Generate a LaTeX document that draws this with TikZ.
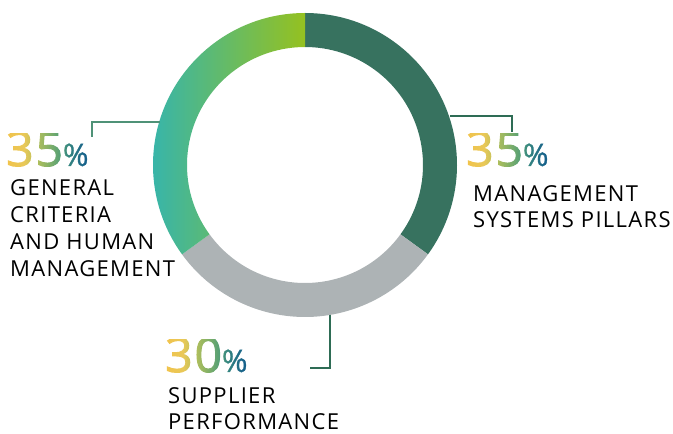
\documentclass[tikz,border=0pt]{standalone}
\usepackage{fontspec}
\setmainfont{Open Sans}
\newfontfamily\labfam[LetterSpace=6]{Open Sans}
\newfontfamily\numfam[LetterSpace=4,FakeBold=2]{Open Sans}
\newfontfamily\pctfam[FakeBold=1]{Open Sans}
\usetikzlibrary{fadings,calc}
\definecolor{darkgreen}{HTML}{37725F}
\definecolor{ringgray}{HTML}{ADB3B5}
\definecolor{tealL}{HTML}{38B5A9}
\definecolor{limeR}{HTML}{95C120}
\definecolor{numA}{HTML}{F2C34B}
\definecolor{numY}{HTML}{E9C858}
\definecolor{numYG}{HTML}{B5C05B}
\definecolor{numG}{HTML}{86B266}
\definecolor{numGG}{HTML}{559F76}
\definecolor{numT}{HTML}{35867F}
\definecolor{numB}{HTML}{17628A}
\definecolor{leadL}{HTML}{4F9277}
\definecolor{leadR}{HTML}{2E6C55}
\newcommand{\bignumfont}{\numfam\fontsize{48}{48}\selectfont}
\newcommand{\pctfont}{\pctfam\fontsize{31}{31}\selectfont}
\newcommand{\labfont}{\labfam\fontsize{22}{26.8}\selectfont}
\pgfdeclarehorizontalshading{numgrad}{100bp}{color(0bp)=(numA); color(25bp)=(numA); color(34bp)=(numY); color(40bp)=(numYG); color(46bp)=(numG); color(52bp)=(numGG); color(56bp)=(numT); color(64bp)=(numB); color(100bp)=(numB)}
\begin{tikzfadingfrompicture}[name=fadeThirtyFive]
\useasboundingbox (0pt,0pt) rectangle (100pt,40pt);
\node (fa) [anchor=base west, inner sep=0pt, text=white, font=\bignumfont] at (0pt,8pt) {35{\pctfont\%}};
\end{tikzfadingfrompicture}
\begin{tikzfadingfrompicture}[name=fadeThirty]
\useasboundingbox (0pt,0pt) rectangle (100pt,40pt);
\node (fb) [anchor=base west, inner sep=0pt, text=white, font=\bignumfont] at (0pt,8pt) {30{\pctfont\%}};
\end{tikzfadingfrompicture}
\tikzset{
  leader/.style={line width=1.1pt},
  label/.style={anchor=base west, inner sep=0pt, align=left, font=\labfont, text=black},
  numbox/.style={shading=numgrad, fit fading=false},
}
\begin{document}
\begin{tikzpicture}[x=1pt,y=1pt]
\useasboundingbox (0,0) rectangle (673,434);
\coordinate (c) at (305,269);
\def\Ro{152}\def\Ri{118}
% segments
\fill[darkgreen] ([shift={(90:\Ro)}]c) arc[start angle=90,end angle=-36,radius=\Ro] -- ([shift={(-36:\Ri)}]c) arc[start angle=-36,end angle=90,radius=\Ri] -- cycle;
\fill[ringgray] ([shift={(-36:\Ro)}]c) arc[start angle=-36,end angle=-144,radius=\Ro] -- ([shift={(-144:\Ri)}]c) arc[start angle=-144,end angle=-36,radius=\Ri] -- cycle;
\shade[left color=tealL, right color=limeR] ([shift={(90:\Ro)}]c) arc[start angle=90,end angle=216,radius=\Ro] -- ([shift={(216:\Ri)}]c) arc[start angle=216,end angle=90,radius=\Ri] -- cycle;
% leaders
\coordinate (lA) at (160,312); \coordinate (lB) at (92,312); \coordinate (lC) at (92,297);
\coordinate (rA) at (450,318); \coordinate (rB) at (512,318); \coordinate (rC) at (512,302);
\coordinate (bA) at (330,119); \coordinate (bB) at (330,66); \coordinate (bC) at (310,66);
\draw[leader, leadL] (lA) -- (lB) -- (lC);
\draw[leader, leadR] (rA) -- (rB) -- (rC);
\draw[leader, leadR] (bA) -- (bB) -- (bC);
% numbers
\path[numbox, path fading=fadeThirtyFive, fading transform={xshift=56pt, yshift=280pt}] (6,260) rectangle ++(100,40);
\path[numbox, path fading=fadeThirtyFive, fading transform={xshift=516pt, yshift=280pt}] (466,260) rectangle ++(100,40);
\path[numbox, path fading=fadeThirty, fading transform={xshift=215pt, yshift=74pt}] (165,54) rectangle ++(100,40);
% labels
\node (tl) [label] at (10,157.6) {GENERAL\\CRITERIA\\AND HUMAN\\MANAGEMENT};
\node (tr) [label] at (473,206) {MANAGEMENT\\SYSTEMS PILLARS};
\node (tb) [label] at (168,4) {SUPPLIER\\PERFORMANCE};
\end{tikzpicture}
\end{document}
